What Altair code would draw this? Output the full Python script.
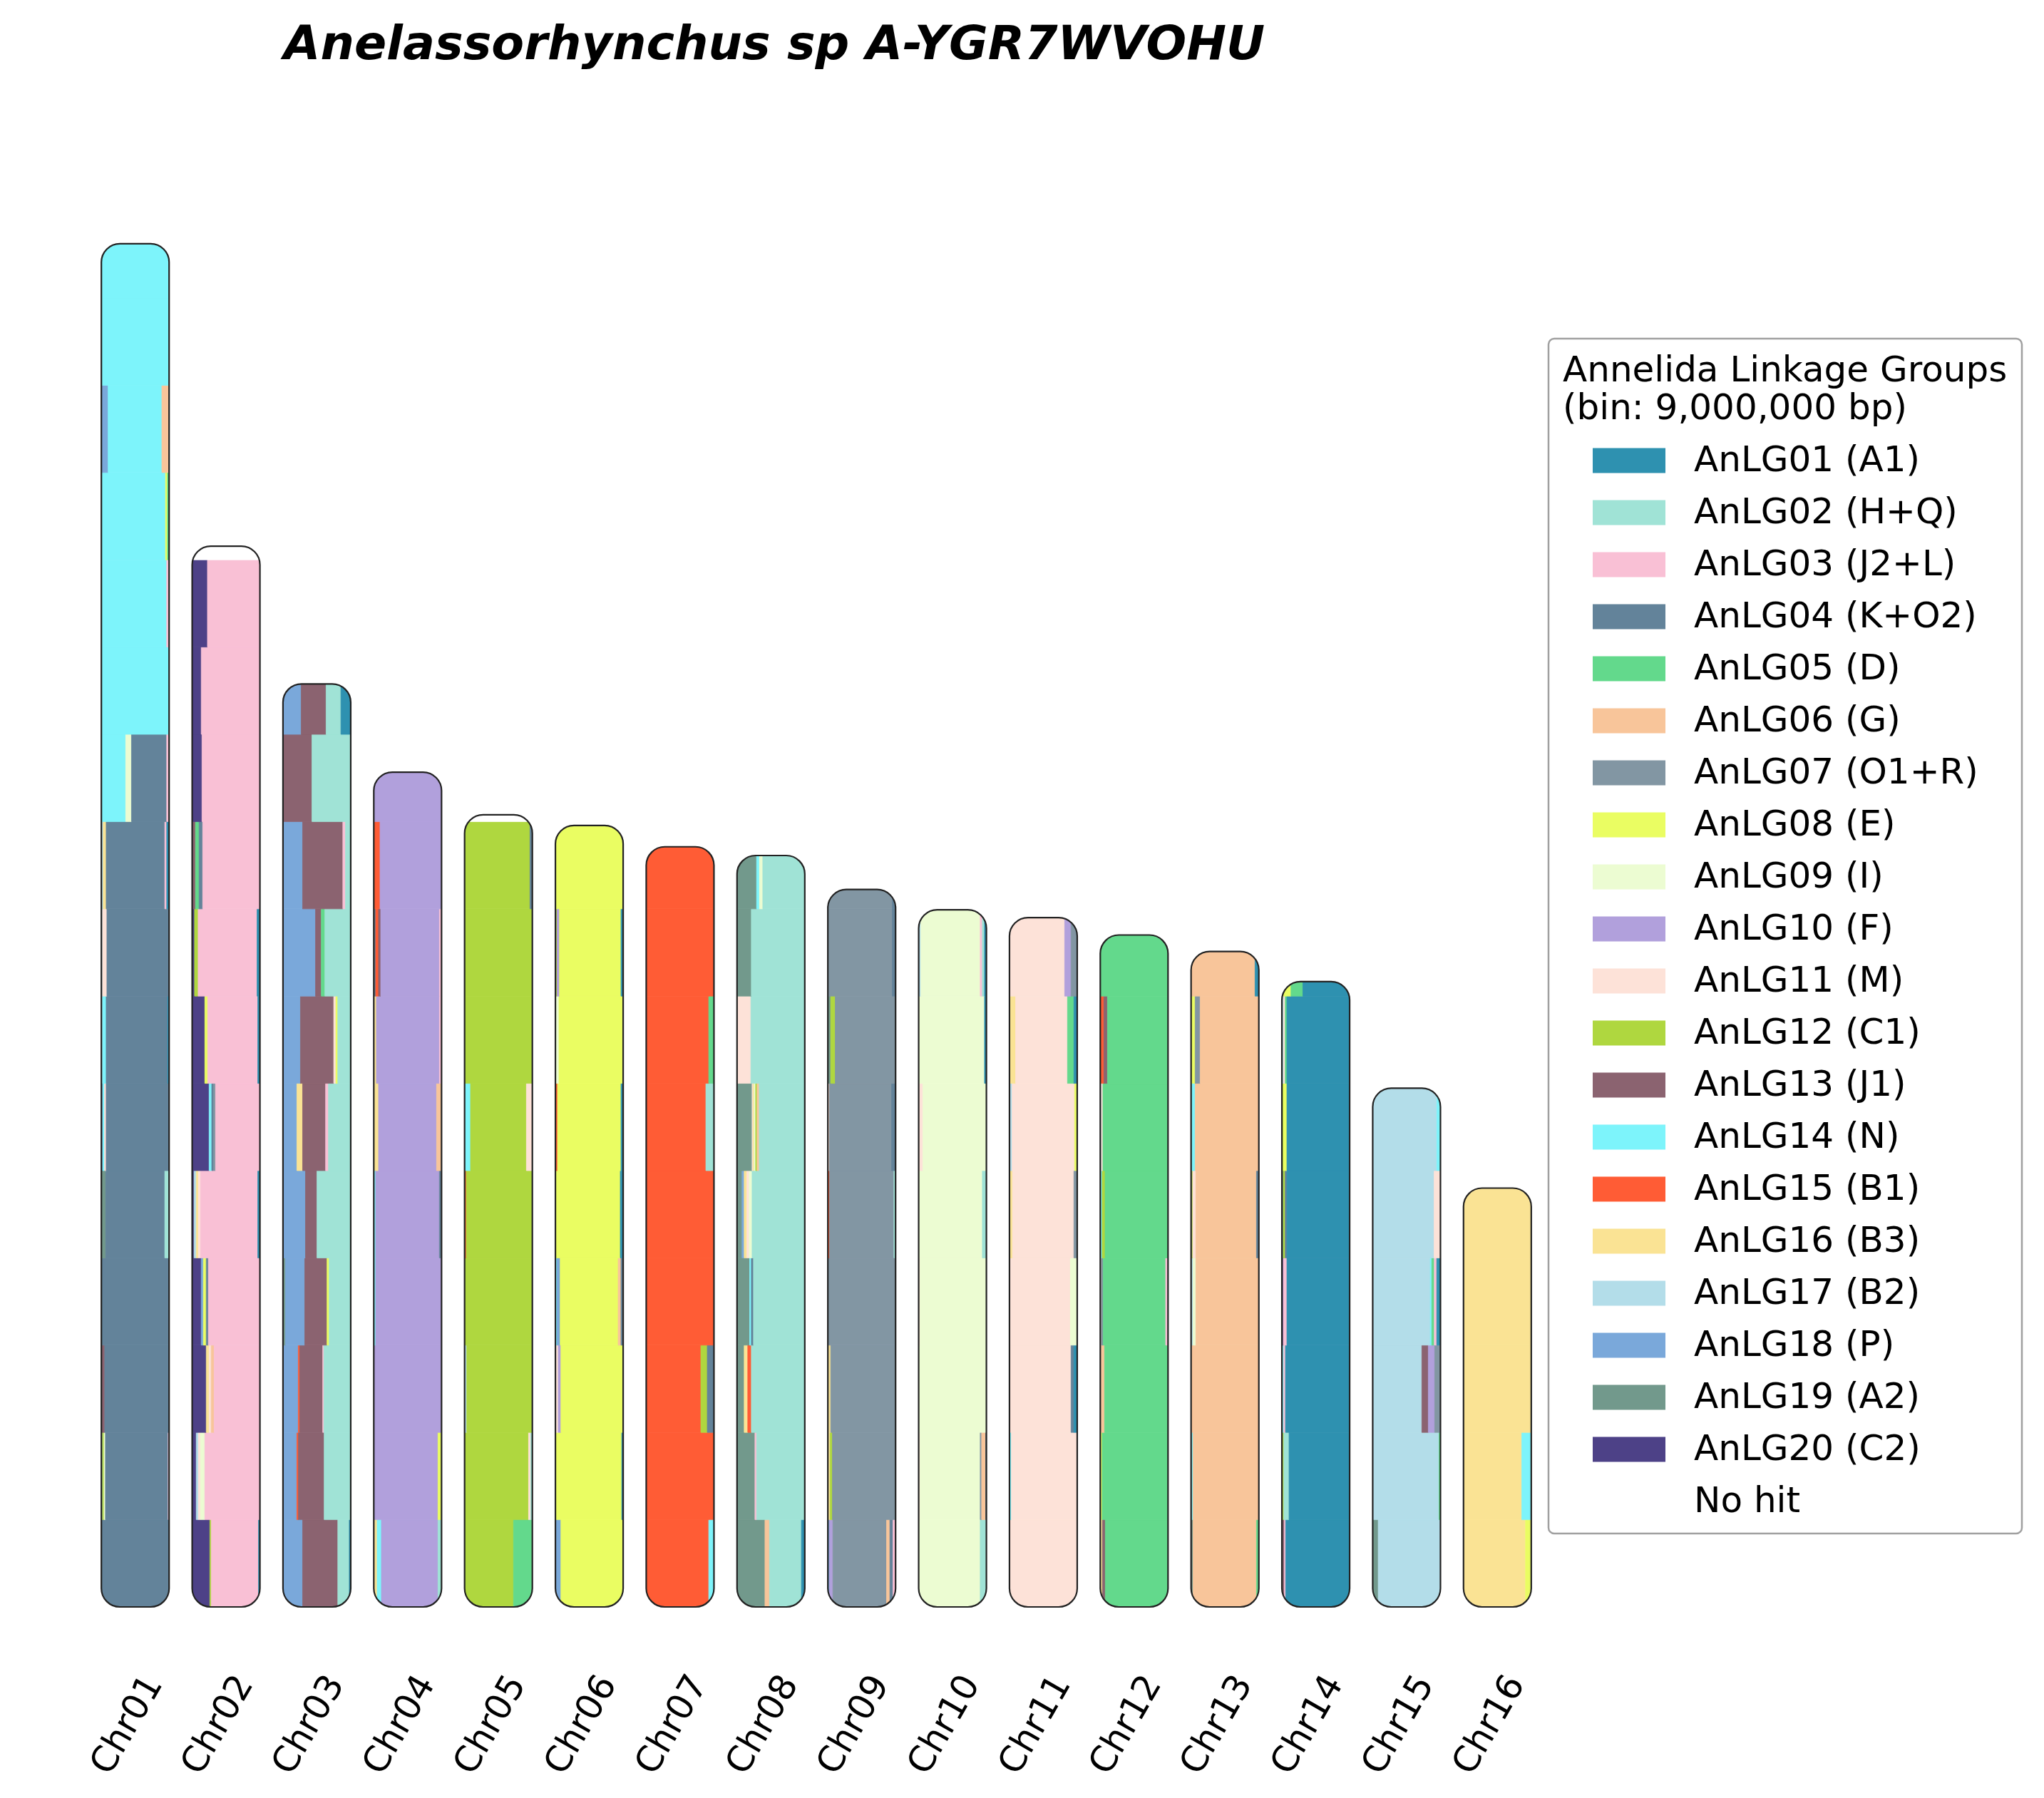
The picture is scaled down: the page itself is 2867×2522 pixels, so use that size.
import json
import altair as alt
import pandas as pd

CHROMS = ["Chr01", "Chr02", "Chr03", "Chr04", "Chr05", "Chr06", "Chr07", "Chr08",
          "Chr09", "Chr10", "Chr11", "Chr12", "Chr13", "Chr14", "Chr15", "Chr16"]
LENGTHS_MBP = [140.6, 109.4, 95.2, 86.1, 81.7, 80.6, 78.4, 77.5,
               74.0, 71.9, 71.1, 69.3, 67.6, 64.5, 53.5, 43.2]
BIN_MBP = 9.0

LG_LABELS = ["AnLG01 (A1)", "AnLG02 (H+Q)", "AnLG03 (J2+L)", "AnLG04 (K+O2)", "AnLG05 (D)",
             "AnLG06 (G)", "AnLG07 (O1+R)", "AnLG08 (E)", "AnLG09 (I)", "AnLG10 (F)",
             "AnLG11 (M)", "AnLG12 (C1)", "AnLG13 (J1)", "AnLG14 (N)", "AnLG15 (B1)",
             "AnLG16 (B3)", "AnLG17 (B2)", "AnLG18 (P)", "AnLG19 (A2)", "AnLG20 (C2)"]
LG_COLORS = ["#2E91B0", "#A0E3D6", "#F9C0D5", "#63839A", "#63D98C",
             "#F8C59A", "#8296A3", "#EAFD62", "#ECFCD2", "#B1A0DC",
             "#FDE2D8", "#AFD73F", "#8B6370", "#7DF4FB", "#FF5C35",
             "#FAE394", "#B3DDE9", "#7AA8DA", "#72998C", "#4D4187"]
NO_HIT = "No hit"
NO_HIT_COLOR = "#FFFFFF"

# bins listed from the bottom of each chromosome; (linkage group number, share); 0 = no hit
CHR01_BINS = [
    [(4, 281)],
    [(17, 5), (12, 6), (9, 6), (4, 260), (3, 4)],
    [(13, 14), (4, 267)],
    [(4, 281)],
    [(19, 18), (4, 245), (2, 18)],
    [(20, 5), (14, 8), (11, 7), (4, 261)],
    [(17, 5), (14, 15), (4, 255), (1, 6)],
    [(17, 5), (11, 18), (4, 258)],
    [(17, 8), (16, 12), (4, 243), (3, 8), (1, 10)],
    [(14, 101), (9, 24), (4, 146), (3, 10)],
    [(14, 281)],
    [(14, 271), (3, 10)],
    [(14, 266), (8, 8), (5, 7)],
    [(18, 28), (14, 223), (6, 30)],
    [(14, 281)],
    [(14, 281)],
]
CHR02_BINS = [
    [(20, 74), (12, 6), (3, 198), (1, 6)],
    [(20, 17), (17, 9), (11, 9), (9, 18), (3, 231)],
    [(20, 59), (16, 12), (11, 9), (6, 12), (3, 192)],
    [(20, 38), (18, 9), (8, 12), (4, 9), (3, 216)],
    [(20, 8), (17, 9), (16, 9), (11, 9), (3, 240), (1, 9)],
    [(20, 71), (14, 11), (4, 8), (7, 8), (3, 186)],
    [(20, 53), (8, 12), (3, 210), (1, 9)],
    [(20, 10), (12, 15), (3, 247), (1, 12)],
    [(13, 14), (5, 15), (4, 15), (3, 240)],
    [(20, 41), (3, 243)],
    [(20, 38), (3, 246)],
    [(20, 64), (3, 220)],
    [(0, 1)],
]
CHR03_BINS = [
    [(18, 82), (13, 147), (2, 48), (1, 6)],
    [(18, 58), (15, 6), (13, 108), (2, 111)],
    [(18, 64), (15, 6), (13, 96), (3, 5), (2, 112)],
    [(19, 10), (18, 81), (13, 93), (8, 9), (2, 90)],
    [(18, 94), (13, 48), (2, 141)],
    [(18, 58), (16, 24), (13, 96), (3, 12), (2, 93)],
    [(18, 73), (13, 139), (11, 9), (8, 8), (2, 54)],
    [(18, 136), (13, 24), (5, 15), (2, 108)],
    [(18, 82), (13, 168), (3, 11), (2, 22)],
    [(13, 121), (2, 162)],
    [(18, 76), (13, 104), (2, 62), (1, 41)],
]
CHR04_BINS = [
    [(16, 14), (14, 18), (10, 237), (2, 15)],
    [(10, 269), (8, 15)],
    [(10, 284)],
    [(14, 8), (10, 276)],
    [(14, 8), (10, 267), (4, 9)],
    [(16, 20), (10, 243), (6, 21)],
    [(16, 11), (10, 264), (3, 9)],
    [(4, 8), (15, 12), (13, 9), (10, 246), (3, 9)],
    [(15, 26), (10, 258)],
    [(10, 284)],
]
CHR05_BINS = [
    [(12, 205), (5, 79)],
    [(12, 268), (11, 9), (2, 7)],
    [(17, 9), (12, 275)],
    [(12, 284)],
    [(15, 7), (12, 277)],
    [(14, 25), (12, 234), (11, 25)],
    [(12, 284)],
    [(12, 284)],
    [(12, 274), (4, 10)],
    [(0, 1)],
]
CHR06_BINS = [
    [(18, 23), (8, 261)],
    [(8, 278), (1, 6)],
    [(11, 12), (10, 11), (8, 261)],
    [(14, 7), (18, 13), (8, 243), (6, 12), (4, 9)],
    [(8, 272), (1, 12)],
    [(15, 9), (8, 266), (1, 9)],
    [(9, 15), (8, 269)],
    [(12, 7), (10, 10), (8, 258), (1, 9)],
    [(8, 284)],
]
CHR07_BINS = [
    [(15, 262), (14, 22)],
    [(15, 284)],
    [(15, 229), (12, 27), (4, 28)],
    [(15, 284)],
    [(15, 284)],
    [(15, 250), (2, 34)],
    [(15, 262), (5, 22)],
    [(15, 284)],
    [(15, 284)],
]
CHR08_BINS = [
    [(19, 117), (6, 19), (2, 134), (1, 14)],
    [(19, 75), (3, 7), (2, 202)],
    [(19, 30), (16, 15), (15, 15), (2, 224)],
    [(19, 53), (14, 7), (4, 9), (2, 215)],
    [(19, 21), (18, 9), (16, 11), (11, 10), (9, 12), (2, 221)],
    [(19, 63), (11, 4), (16, 5), (9, 6), (12, 6), (6, 9), (2, 191)],
    [(11, 58), (2, 226)],
    [(19, 60), (2, 224)],
    [(19, 82), (14, 12), (9, 14), (2, 176)],
]
CHR09_BINS = [
    [(18, 7), (10, 14), (7, 225), (6, 14), (4, 13), (3, 11)],
    [(16, 10), (12, 9), (7, 265)],
    [(16, 12), (7, 272)],
    [(7, 284)],
    [(15, 7), (7, 270), (2, 7)],
    [(11, 7), (7, 260), (4, 17)],
    [(19, 12), (12, 19), (7, 253)],
    [(7, 270), (4, 14)],
    [(7, 270), (4, 14)],
]
CHR10_BINS = [
    [(9, 258), (2, 26)],
    [(11, 6), (9, 252), (7, 6), (6, 17), (4, 3)],
    [(9, 284)],
    [(11, 6), (9, 278)],
    [(9, 267), (2, 17)],
    [(11, 18), (9, 266)],
    [(9, 276), (1, 8)],
    [(17, 9), (9, 249), (3, 9), (2, 9), (1, 8)],
]
CHR11_BINS = [
    [(11, 286)],
    [(14, 8), (11, 278)],
    [(11, 260), (4, 12), (1, 14)],
    [(11, 257), (9, 29)],
    [(16, 13), (11, 259), (7, 14)],
    [(17, 11), (11, 264), (8, 11)],
    [(16, 26), (11, 219), (5, 27), (1, 14)],
    [(11, 233), (10, 27), (7, 26)],
]
CHR12_BINS = [
    [(16, 9), (13, 12), (5, 263)],
    [(8, 8), (5, 276)],
    [(6, 18), (5, 266)],
    [(11, 5), (7, 7), (5, 262), (3, 10)],
    [(14, 8), (12, 12), (5, 264)],
    [(17, 5), (11, 6), (5, 273)],
    [(15, 15), (13, 15), (5, 254)],
    [(5, 284)],
]
CHR13_BINS = [
    [(19, 8), (6, 267), (5, 10)],
    [(14, 8), (6, 277)],
    [(6, 285)],
    [(17, 8), (9, 12), (6, 265)],
    [(12, 7), (11, 13), (6, 255), (4, 10)],
    [(14, 17), (6, 268)],
    [(8, 17), (7, 21), (6, 247)],
    [(6, 269), (1, 16)],
]
CHR14_BINS = [
    [(13, 10), (3, 6), (1, 268)],
    [(12, 8), (2, 22), (1, 254)],
    [(14, 8), (3, 7), (1, 269)],
    [(20, 6), (3, 15), (1, 263)],
    [(4, 6), (12, 8), (4, 7), (1, 263)],
    [(12, 6), (8, 15), (1, 263)],
    [(17, 7), (11, 7), (5, 7), (1, 263)],
    [(8, 38), (5, 50), (1, 196)],
]
CHR15_BINS = [
    [(19, 23), (17, 261)],
    [(17, 278), (5, 6)],
    [(17, 206), (13, 27), (10, 27), (7, 24)],
    [(17, 233), (14, 6), (5, 10), (3, 10), (1, 15)],
    [(17, 257), (11, 27)],
    [(17, 269), (14, 15)],
]
CHR16_BINS = [
    [(16, 260), (8, 24)],
    [(16, 244), (14, 40)],
    [(16, 284)],
    [(16, 284)],
    [(16, 284)],
]

ALL_BINS = [CHR01_BINS, CHR02_BINS, CHR03_BINS, CHR04_BINS, CHR05_BINS, CHR06_BINS,
            CHR07_BINS, CHR08_BINS, CHR09_BINS, CHR10_BINS, CHR11_BINS, CHR12_BINS,
            CHR13_BINS, CHR14_BINS, CHR15_BINS, CHR16_BINS]

HALF_W = 0.373  # half width of a chromosome, in slot units

seg_rows = []
for ci, bins in enumerate(ALL_BINS):
    length = LENGTHS_MBP[ci]
    for bi, segs in enumerate(bins):
        y0 = bi * BIN_MBP
        y1 = min((bi + 1) * BIN_MBP, length)
        total = float(sum(w for _, w in segs))
        cum = 0.0
        for lg, w in segs:
            x0 = ci - HALF_W + 2 * HALF_W * cum / total
            cum += w
            x1 = ci - HALF_W + 2 * HALF_W * cum / total
            seg_rows.append({"chrom": CHROMS[ci], "lg": LG_LABELS[lg - 1] if lg else NO_HIT,
                             "x0": x0, "x1": x1, "y0": y0, "y1": y1})
seg_df = pd.DataFrame(seg_rows)

frame_df = pd.DataFrame({
    "chrom": CHROMS,
    "xl": [i - HALF_W for i in range(len(CHROMS))],
    "xr": [i + HALF_W for i in range(len(CHROMS))],
    "top": LENGTHS_MBP,
    "bottom": [0.0] * len(CHROMS),
})

W, H = 2038, 2040
xscale = alt.Scale(domain=[-0.5, len(CHROMS) - 0.5], nice=False, zero=False)
yscale = alt.Scale(domain=[0, 150], nice=False, zero=False)

label_expr = json.dumps(CHROMS) + "[datum.value]"
xaxis = alt.Axis(values=list(range(len(CHROMS))), labelExpr=label_expr, title=None,
                 domain=False, ticks=False, tickSize=0, grid=False,
                 labelAngle=-60, labelAlign="center", labelBaseline="middle",
                 labelPadding=165, labelOffset=-12, labelFontSize=50,
                 labelFont="DejaVu Sans", labelColor="black", labelFlush=False,
                 labelOverlap=False)

color_scale = alt.Scale(domain=LG_LABELS + [NO_HIT], range=LG_COLORS + [NO_HIT_COLOR])

legend = alt.Legend(
    title=["Annelida Linkage Groups", "(bin: 9,000,000 bp)"],
    orient="none", legendX=2046, legendY=261,
    padding=20, cornerRadius=8, strokeColor="#A0A0A0", fillColor="white",
    titleFont="DejaVu Sans", titleFontSize=50, titleFontWeight="normal", titleColor="black",
    titleLineHeight=53, titlePadding=0, titleLimit=2000,
    labelFont="DejaVu Sans", labelFontSize=50, labelColor="black", labelLimit=2000,
    labelExpr="datum.label + '\u00a0\u00a0\u00a0\u00a0\u00a0\u00a0'",
    symbolType="M-1.0625,-0.365H1.0625V0.365H-1.0625Z", symbolSize=9216, symbolStrokeWidth=0,
    symbolOffset=45, labelOffset=43, rowPadding=0,
)

segments = alt.Chart(seg_df).mark_rect(strokeWidth=0.8).encode(
    x=alt.X("x0:Q", scale=xscale, axis=xaxis),
    x2="x1:Q",
    y=alt.Y("y0:Q", scale=yscale, axis=None),
    y2="y1:Q",
    color=alt.Color("lg:N", scale=color_scale, legend=legend),
    stroke=alt.Stroke("lg:N", scale=color_scale, legend=None),
)

mask = alt.Chart(frame_df).mark_rect(
    fillOpacity=0, stroke="white", strokeWidth=16, cornerRadius=34,
    xOffset=-8, x2Offset=8, yOffset=-8, y2Offset=8,
).encode(
    x=alt.X("xl:Q", scale=xscale, axis=xaxis),
    x2="xr:Q",
    y=alt.Y("top:Q", scale=yscale, axis=None),
    y2="bottom:Q",
)

outline = alt.Chart(frame_df).mark_rect(
    fillOpacity=0, stroke="#222222", strokeWidth=2.2, cornerRadius=26,
).encode(
    x=alt.X("xl:Q", scale=xscale, axis=xaxis),
    x2="xr:Q",
    y=alt.Y("top:Q", scale=yscale, axis=None),
    y2="bottom:Q",
)

chart = alt.layer(segments, mask, outline).properties(
    width=W, height=H,
    background="white",
    padding={"left": 118, "top": 206, "right": 690, "bottom": 250},
    autosize=alt.AutoSizeParams(type="none"),
    title=alt.TitleParams(
        "Anelassorhynchus sp A-YGR7WVOHU", font="DejaVu Sans", fontSize=66.7,
        fontWeight="bold", fontStyle="italic", color="black", anchor="middle",
        dx=-59, offset=64, baseline="alphabetic", frame="group",
    ),
).configure_view(stroke=None).configure_legend(strokeWidth=2.5)

chart.save("out.html", embed_options={"renderer": "svg", "actions": False})
